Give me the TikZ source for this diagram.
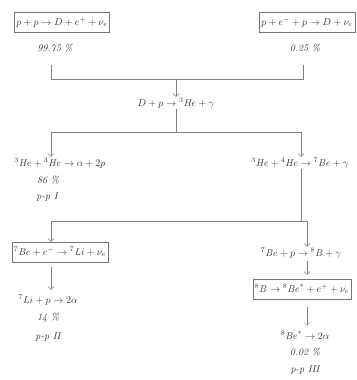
\documentclass[tikz,border=0pt]{standalone}
\usepackage{amsmath}
\usepackage{amssymb}
\usepackage{tikz}
\usepackage{xcolor}
\usetikzlibrary{positioning, arrows.meta}

\begin{document}
\begin{tikzpicture}[
        x=1pt, y=-1pt,
        >={Straight Barb[length=3pt, width=6pt]},
        % Style for the thin grey connectors
        link/.style={draw=black!50, thin},
        % Style for the boxed reactions
        reacbox/.style={draw=black!55, thin, text=black!80, inner sep=2pt, minimum height=20pt},
        % Style for the plain reactions and notes
        reac/.style={text=black!80, inner sep=1pt},
        note/.style={text=black!80, inner sep=1pt, font=\itshape}
    ]
    \useasboundingbox (0,0) rectangle (356,380);

        % --- Start of the chain ---
        \node[reacbox] (PP) at (62,22) {$p+p\to D+e^{+}+\nu_e$};
        \node[note] (PPpct) at (55,48) {99.75 \%};
        \node[reacbox] (PEP) at (307,22) {$p+e^{-}+p\to D+\nu_e$};
        \node[note] (PEPpct) at (305,48) {0.25 \%};
        \node[reac] (DP) at (176,103) {$D+p\to{}^{3}\mathit{He}+\gamma$};

        % --- Second step ---
        \node[reac] (HeHe) at (60,163) {${}^{3}\mathit{He}+{}^{3}\mathit{He}\to\alpha+2p$};
        \node[note] (HeHepct) at (48,180) {86 \%};
        \node[note] (ppI) at (47,197) {p-p I};
        \node[reac] (HeBe) at (300,163) {${}^{3}\mathit{He}+{}^{4}\mathit{He}\to{}^{7}\mathit{Be}+\gamma$};

        % --- p-p II branch ---
        \node[reacbox] (BeLi) at (60,252) {${}^{7}\mathit{Be}+e^{-}\to{}^{7}\mathit{Li}+\nu_e$};
        \node[reac] (LiP) at (48,300) {${}^{7}\mathit{Li}+p\to2\alpha$};
        \node[note] (LiPpct) at (48,318) {14 \%};
        \node[note] (ppII) at (48,337) {p-p II};

        % --- p-p III branch ---
        \node[reac] (BeP) at (301,253) {${}^{7}\mathit{Be}+p\to{}^{8}\mathit{B}+\gamma$};
        \node[reacbox] (BBe) at (302,289) {${}^{8}\mathit{B}\to{}^{8}\mathit{Be}^{*}+e^{+}+\nu_e$};
        \node[reac] (BeAl) at (305,335) {${}^{8}\mathit{Be}^{*}\to2\alpha$};
        \node[note] (BeAlpct) at (305,352) {0.02 \%};
        \node[note] (ppIII) at (305,370) {p-p III};

        % --- Junction points ---
        \coordinate (a1) at (51,65);
        \coordinate (a2) at (51,79);
        \coordinate (a3) at (303,79);
        \coordinate (a4) at (303,65);
        \coordinate (am) at (176,79);
        \coordinate (bm) at (176,132);
        \coordinate (bl) at (51,132);
        \coordinate (br) at (301,132);
        \coordinate (cr) at (301,221);
        \coordinate (cl) at (51,221);
        \coordinate (ce) at (307,221);

        % --- Connectors ---
        \draw[link] (a1) -- (a2) -- (a3) -- (a4);
        \draw[link, ->] (am) -- (DP);
        \draw[link] (DP) -- (bm);
        \draw[link, ->] (bm) -- (bl) -- (HeHe.north -| bl);
        \draw[link, ->] (bm) -- (br) -- (HeBe.north -| br);
        \draw[link] (HeBe.south -| cr) -- (cr);
        \draw[link] (cl) -- (ce);
        \draw[link, ->] (cl) -- (BeLi.north -| cl);
        \draw[link, ->] (ce) -- (BeP.north -| ce);
        \draw[link, ->, shorten <=5pt, shorten >=4pt] (BeLi.south -| cl) -- (LiP.north -| cl);
        \draw[link, ->, shorten <=2pt, shorten >=4pt] (BeP.south -| ce) -- (BBe.north -| ce);
        \draw[link, ->, shorten <=8pt, shorten >=4pt] (BBe.south -| ce) -- (BeAl.north -| ce);

    \end{tikzpicture}
\end{document}
